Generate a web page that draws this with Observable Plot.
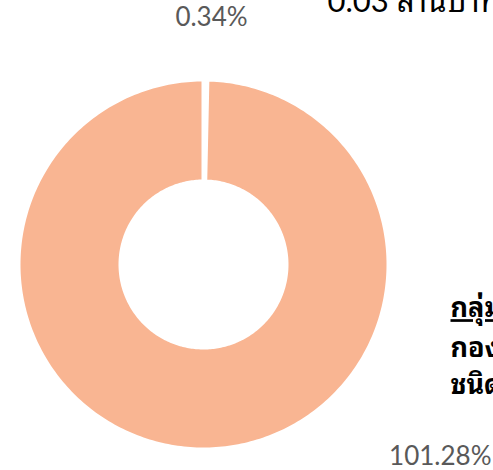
<!DOCTYPE html>
<html>
<head>
<meta charset="utf-8">
<script src="https://cdn.jsdelivr.net/npm/d3@7"></script>
<script src="https://cdn.jsdelivr.net/npm/@observablehq/plot@0.6"></script>
<style>
  html, body { margin: 0; padding: 0; background: #fff; }
  #chart { width: 493px; height: 470px; overflow: hidden; }
  svg { font-family: Lato, "Noto Sans Thai Looped", Loma, Garuda, Tahoma, "Noto Sans Thai", "Noto Sans", "DejaVu Sans", sans-serif; }
</style>
</head>
<body>
<div id="chart"></div>
<script>
// ---- data ----
const categories = ["ส่วนที่ 1", "ส่วนที่ 2"];
const values = [0.34, 101.28];
const valueLabels = ["0.34%", "101.28%"];
const sliceColors = ["#ffffff", "#f9b592"];
const headerText = "0.03 ล้านบาท";
const noteLines = ["กลุ่มกองทุน", "กองทุนรวม", "ชนิดตราสาร"];

// ---- geometry (style) ----
const W = 493, H = 470;
const cx = 203, cy = 264, R = 185;       // pixel centre and outer radius (incl. stroke)
const innerFrac = 83 / 185;

const arcs = d3.pie().sort(null).startAngle(0).endAngle(2 * Math.PI)(values);
const pts = [];
arcs.forEach((a, i) => {
  const n = Math.max(4, Math.ceil((a.endAngle - a.startAngle) / (Math.PI / 180)));
  const ring = [];
  for (let k = 0; k <= n; k++) {
    const t = a.startAngle + (a.endAngle - a.startAngle) * k / n;
    ring.push({x: Math.sin(t), y: Math.cos(t)});
  }
  for (let k = n; k >= 0; k--) {
    const t = a.startAngle + (a.endAngle - a.startAngle) * k / n;
    ring.push({x: innerFrac * Math.sin(t), y: innerFrac * Math.cos(t)});
  }
  ring.forEach(p => pts.push({...p, cat: categories[i]}));
});

const noteOffsets = [297.5, 337.5, 374];

const chart = Plot.plot({
  width: W,
  height: H,
  margin: 0,
  x: {domain: [-cx / R, (W - cx) / R], axis: null},
  y: {domain: [-(H - cy) / R, cy / R], axis: null},
  color: {type: "ordinal", domain: categories, range: sliceColors},
  marks: [
    Plot.line(pts, {x: "x", y: "y", z: "cat", fill: "cat", stroke: "white", strokeWidth: 4, curve: "linear-closed"}),
    Plot.text([valueLabels[0]], {frameAnchor: "top-left", dx: 211, dy: 7.5, text: d => d, fill: "#595959", fontSize: 26, textAnchor: "middle"}),
    Plot.text([valueLabels[1]], {frameAnchor: "top-left", dx: 491, dy: 446.5, text: d => d, fill: "#595959", fontSize: 26, textAnchor: "end"}),
    Plot.text([headerText], {frameAnchor: "top-left", dx: 327, dy: -11, text: d => d, fill: "#000", fontSize: 31, textAnchor: "start"}),
    ...noteLines.map((t, i) => Plot.text([t], {
      frameAnchor: "top-left", dx: 450, dy: noteOffsets[i], text: d => d, fill: "#000",
      fontSize: 27, fontWeight: "bold", textAnchor: "start"
    }))
  ]
});
d3.select(chart).selectAll("text")
  .filter(function () { return this.textContent === noteLines[0]; })
  .style("text-decoration", "underline")
  .attr("text-decoration", "underline");
document.getElementById("chart").appendChild(chart);
</script>
</body>
</html>
